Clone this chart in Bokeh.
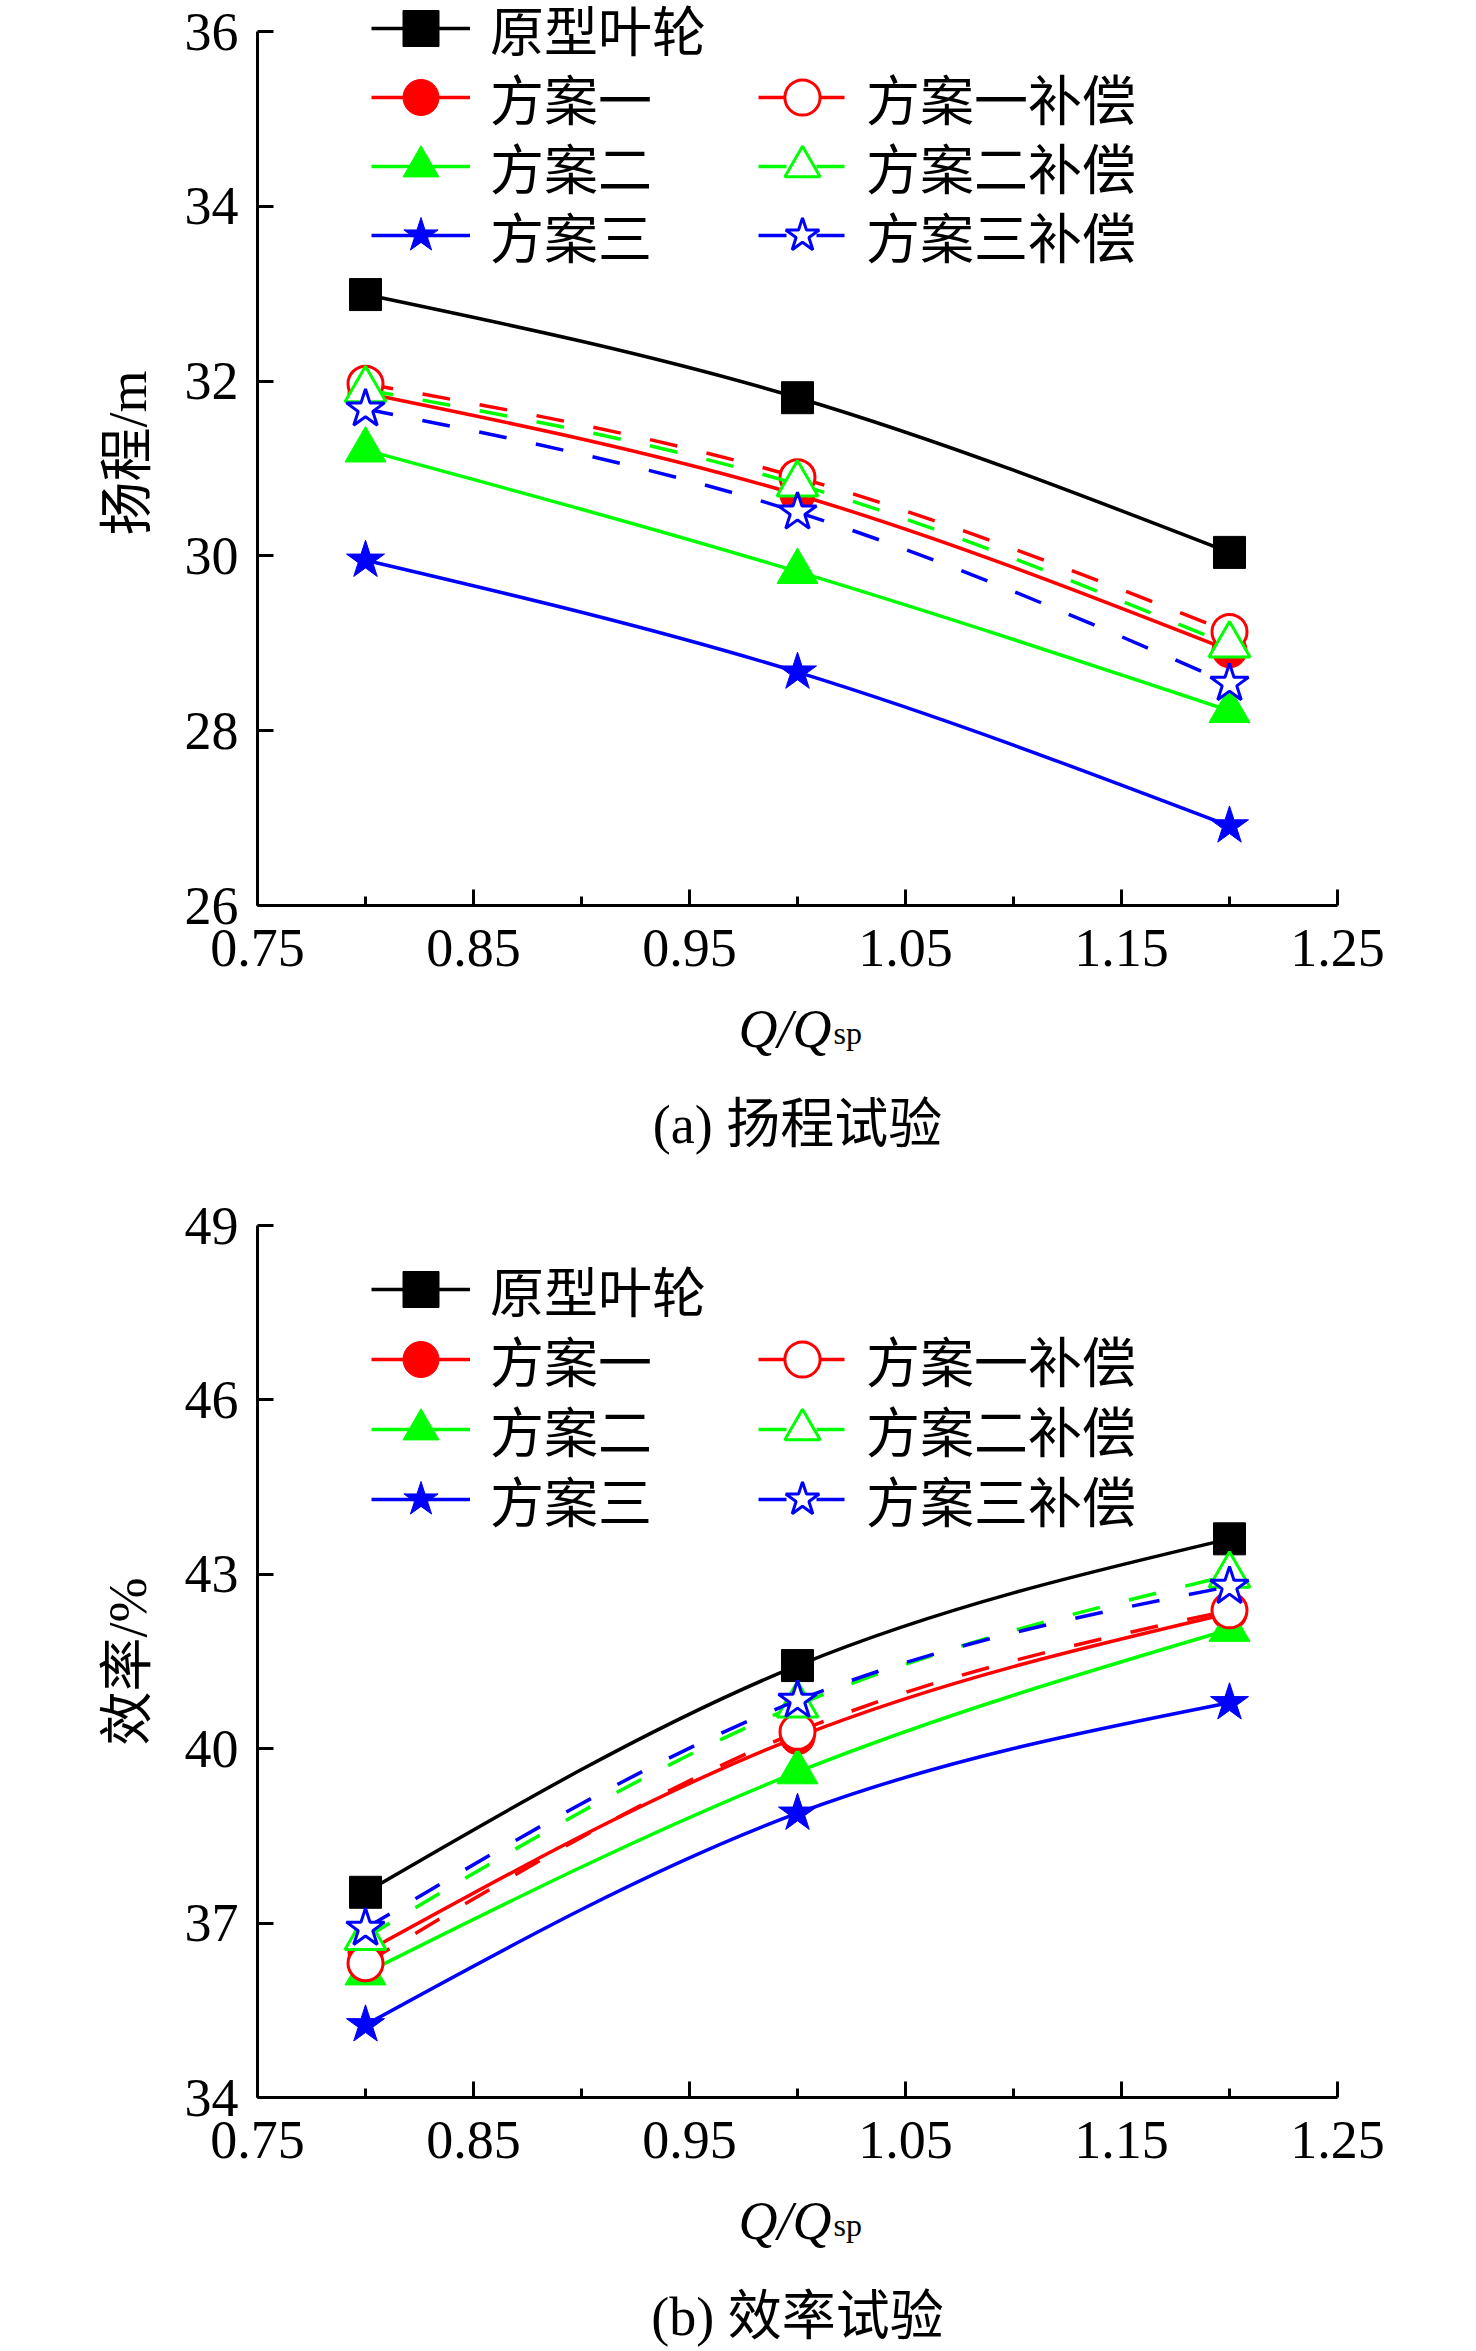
import numpy as np
from bokeh.plotting import figure
from bokeh.models import Range1d, FixedTicker, Legend, LegendItem, Label, ColumnDataSource
from bokeh.layouts import column
from bokeh.embed import file_html
from bokeh.resources import INLINE

# ---------------- data ----------------
q_ratio = [0.8, 1.0, 1.2]
series_names = ["原型叶轮", "方案一", "方案二", "方案三", "方案一补偿", "方案二补偿", "方案三补偿"]

# head (m)
head_orig = [32.99, 31.81, 30.04]
head_s1 = [31.86, 30.70, 28.92]
head_s2 = [31.21, 29.82, 28.23]
head_s3 = [29.95, 28.67, 26.91]
head_s1c = [31.97, 30.90, 29.13]
head_s2c = [31.90, 30.82, 28.98]
head_s3c = [31.68, 30.50, 28.54]

# efficiency (%)
eff_orig = [37.53, 41.43, 43.61]
eff_s1 = [36.50, 40.20, 42.33]
eff_s2 = [36.14, 39.60, 42.05]
eff_s3 = [35.25, 38.89, 40.79]
eff_s1c = [36.31, 40.29, 42.38]
eff_s2c = [36.75, 40.75, 42.98]
eff_s3c = [36.91, 40.83, 42.79]

x_ticks = [0.75, 0.85, 0.95, 1.05, 1.15, 1.25]
x_minor_ticks = [0.80, 0.90, 1.00, 1.10, 1.20]
head_ticks = [26, 28, 30, 32, 34, 36]
eff_ticks = [34, 37, 40, 43, 46, 49]

SERIF = "Liberation Serif, Noto Sans CJK SC"
GREEN = "#00FF00"
styles = [
    # color, marker, size, filled, dash
    ("black", "square", 32, True, "solid"),
    ("red", "circle", 35, True, "solid"),
    (GREEN, "triangle", 41, True, "solid"),
    ("blue", "star", 40, True, "solid"),
    ("red", "circle", 35, False, "28 30"),
    (GREEN, "triangle", 41, False, "28 30"),
    ("blue", "star", 40, False, "28 30"),
]

W = 1476
FRAME_LEFT = 257
FRAME_W = 1080


def spline_segments(xs, ys):
    """Natural cubic spline through the points, expressed as Bezier segments."""
    xs = np.asarray(xs, float)
    ys = np.asarray(ys, float)
    n = len(xs)
    h = np.diff(xs)
    A = np.zeros((n, n))
    r = np.zeros(n)
    A[0, 0] = A[-1, -1] = 1.0
    for i in range(1, n - 1):
        A[i, i - 1] = h[i - 1]
        A[i, i] = 2 * (h[i - 1] + h[i])
        A[i, i + 1] = h[i]
        r[i] = 6 * ((ys[i + 1] - ys[i]) / h[i] - (ys[i] - ys[i - 1]) / h[i - 1])
    M = np.linalg.solve(A, r)
    d = np.diff(ys) / h
    s0 = d - h * (2 * M[:-1] + M[1:]) / 6
    s1 = d + h * (M[:-1] + 2 * M[1:]) / 6
    return dict(x0=xs[:-1], y0=ys[:-1], x1=xs[1:], y1=ys[1:],
                cx0=xs[:-1] + h / 3, cy0=ys[:-1] + s0 * h / 3,
                cx1=xs[1:] - h / 3, cy1=ys[1:] - s1 * h / 3)


def make_panel(values, y_lo, y_hi, y_ticks, ylabel, top_border, gap, axis_h, row_centers):
    """top_border: empty pixels above the frame; gap: frame pixels above the top tick;
    axis_h: pixel span of the y axis; row_centers: legend row centres from frame top."""
    bottom_border = 90
    frame_h = gap + axis_h
    height = top_border + frame_h + bottom_border
    ppu = axis_h / (y_hi - y_lo)
    p = figure(width=W, height=height, output_backend="svg", toolbar_location=None,
               x_range=Range1d(0.75, 1.25),
               y_range=Range1d(y_lo, y_hi + gap / ppu),
               min_border_left=FRAME_LEFT, min_border_right=W - FRAME_LEFT - FRAME_W,
               min_border_top=top_border, min_border_bottom=bottom_border)
    p.outline_line_color = None
    p.background_fill_color = "white"
    p.border_fill_color = "white"
    p.xgrid.visible = False
    p.ygrid.visible = False

    xa = p.xaxis[0]
    xa.ticker = FixedTicker(ticks=x_ticks, minor_ticks=x_minor_ticks)
    ya = p.yaxis[0]
    ya.ticker = FixedTicker(ticks=y_ticks, minor_ticks=[])
    ya.bounds = (y_lo, y_hi)
    for ax in (xa, ya):
        ax.axis_line_width = 3
        ax.axis_line_color = "black"
        ax.major_tick_line_width = 3
        ax.minor_tick_line_width = 3
        ax.major_tick_line_color = "black"
        ax.minor_tick_line_color = "black"
        ax.major_tick_in = 16
        ax.major_tick_out = 0
        ax.minor_tick_in = 9
        ax.minor_tick_out = 0
        ax.major_label_text_font = SERIF
        ax.major_label_text_font_size = "54px"
        ax.major_label_text_color = "black"
    ya.minor_tick_line_color = None
    xa.major_label_standoff = 24
    ya.major_label_standoff = 19
    ya.axis_label = ylabel
    ya.axis_label_text_font = SERIF
    ya.axis_label_text_font_size = "54px"
    ya.axis_label_text_font_style = "normal"
    ya.axis_label_text_color = "black"
    ya.axis_label_standoff = 24

    entries = []
    for k, (name, ys) in enumerate(zip(series_names, values)):
        color, marker, size, filled, dash = styles[k]
        src = ColumnDataSource(spline_segments(q_ratio, ys))
        br = p.bezier(x0="x0", y0="y0", x1="x1", y1="y1", cx0="cx0", cy0="cy0",
                      cx1="cx1", cy1="cy1", source=src, line_color=color,
                      line_width=3.5, line_dash=dash)
        if filled:
            sr = p.scatter(q_ratio, ys, marker=marker, size=size, fill_color=color,
                           line_color=color, line_width=1)
        else:
            sr = p.scatter(q_ratio, ys, marker=marker, size=size, fill_color="white",
                           line_color=color, line_width=3)
        entries.append(LegendItem(label=name, renderers=[br, sr]))

    # legend: column 1 rows 0..3, column 2 rows 1..3 (one legend per row for exact pitch)
    gh = 90
    layout_slots = [(0, 0), (0, 1), (0, 2), (0, 3), (1, 1), (1, 2), (1, 3)]
    cols = [(114, 99), (501, 88)]
    for item, (c, r) in zip(entries, layout_slots):
        vx, gw = cols[c]
        vy = frame_h - row_centers[r] - gh / 2
        leg = Legend(items=[item], location=(vx, vy), glyph_width=gw, glyph_height=gh,
                     spacing=0, padding=0, margin=0, label_standoff=20,
                     label_text_font=SERIF, label_text_font_size="54px",
                     label_text_color="black",
                     border_line_color=None, background_fill_alpha=0)
        p.add_layout(leg)
    return p


def make_caption(height, label_base_from_top, caption_base_from_top, caption):
    c = figure(width=W, height=height, output_backend="svg", toolbar_location=None,
               x_range=Range1d(0, 1), y_range=Range1d(0, 1),
               x_axis_location=None, y_axis_location=None, min_border=0)
    c.outline_line_color = None
    c.xgrid.visible = False
    c.ygrid.visible = False
    # x positions are relative to the frame, which the column aligns with the panels
    c.add_layout(Label(x=481, y=height - label_base_from_top,
                       x_units="screen", y_units="screen", text="Q/Q",
                       text_font="Liberation Serif", text_font_style="italic",
                       text_font_size="54px", text_color="black",
                       text_baseline="alphabetic", text_align="left"))
    c.add_layout(Label(x=576, y=height - label_base_from_top - 4,
                       x_units="screen", y_units="screen", text="sp",
                       text_font="Liberation Serif", text_font_size="32px",
                       text_color="black", text_baseline="alphabetic", text_align="left"))
    c.add_layout(Label(x=FRAME_W / 2, y=height - caption_base_from_top,
                       x_units="screen", y_units="screen", text=caption,
                       text_font=SERIF, text_font_size="54px", text_color="black",
                       text_baseline="alphabetic", text_align="center"))
    return c


head_vals = [head_orig, head_s1, head_s2, head_s3, head_s1c, head_s2c, head_s3c]
eff_vals = [eff_orig, eff_s1, eff_s2, eff_s3, eff_s1c, eff_s2c, eff_s3c]

# panel (a): figure top at page 0; top tick at 31, bottom axis at 905
pa = make_panel(head_vals, 26, 36, head_ticks, "扬程/m", 0, 31, 874, [28, 97, 166, 235])
ca = make_caption(183, 33, 129, "(a) 扬程试验")
# panel (b): figure top at page 1178; top tick at 1225, bottom axis at 2097
pb = make_panel(eff_vals, 34, 49, eff_ticks, "效率/%", 47, 0, 872, [64, 134, 204, 274])
cb = make_caption(164, 33, 129, "(b) 效率试验")

layout = column(pa, ca, pb, cb)
open("out.html", "w").write(file_html(layout, INLINE))
